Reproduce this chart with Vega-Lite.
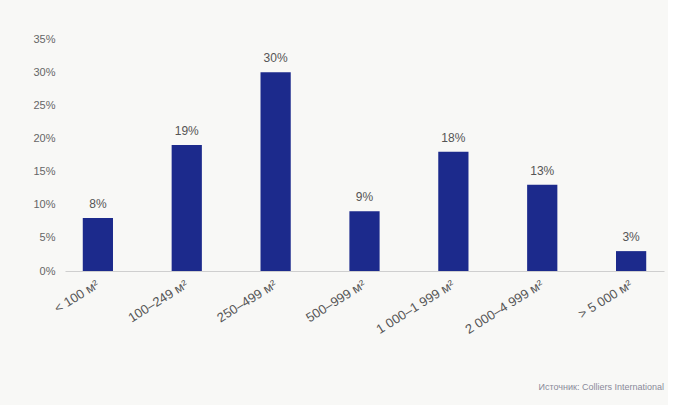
{
  "$schema": "https://vega.github.io/schema/vega-lite/v6.json",
  "width": 599,
  "height": 232,
  "padding": {"left": 32, "top": 33, "right": 4, "bottom": 12},
  "background": "#f8f8f6",
  "config": {"view": {"stroke": null}, "font": "Liberation Sans"},
  "data": {"values": [
    {"size": "< 100 м²", "share": 0.08},
    {"size": "100–249 м²", "share": 0.19},
    {"size": "250–499 м²", "share": 0.30},
    {"size": "500–999 м²", "share": 0.09},
    {"size": "1 000–1 999 м²", "share": 0.18},
    {"size": "2 000–4 999 м²", "share": 0.13},
    {"size": "> 5 000 м²", "share": 0.03}
  ]},
  "title": {"text": "Источник: Colliers International", "orient": "bottom", "anchor": "end", "fontSize": 9, "fontWeight": "normal", "color": "#8a8a9a", "offset": 47},
  "encoding": {
    "x": {"field": "size", "type": "nominal", "sort": null, "title": null,
      "scale": {"paddingInner": 0.66, "paddingOuter": 0.2},
      "axis": {"labelAngle": -32, "labelAlign": "right", "labelBaseline": "middle", "ticks": false, "domainColor": "#cfcfcf", "labelColor": "#555555", "labelFontSize": 13, "labelPadding": 12}},
    "y": {"field": "share", "type": "quantitative", "title": null,
      "scale": {"domain": [0, 0.35]},
      "axis": {"format": ".0%", "values": [0, 0.05, 0.1, 0.15, 0.2, 0.25, 0.3, 0.35], "grid": false, "domain": false, "ticks": false, "labelColor": "#666666", "labelFontSize": 11, "labelPadding": 10}}
  },
  "layer": [
    {"mark": {"type": "bar", "color": "#1c2a8c"}},
    {"mark": {"type": "text", "dy": -14, "color": "#555555", "fontSize": 12},
     "encoding": {"text": {"field": "share", "type": "quantitative", "format": ".0%"}}}
  ]
}
